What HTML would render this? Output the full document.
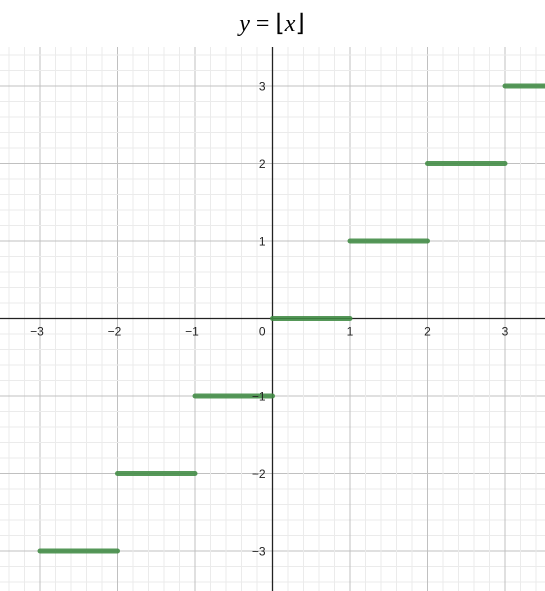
<!DOCTYPE html>
<html><head><meta charset="utf-8"><style>
html,body{margin:0;padding:0;background:#fff;width:545px;height:591px;overflow:hidden}
</style></head><body>
<svg id="chart" width="545" height="591" xmlns="http://www.w3.org/2000/svg">
<text x="272" y="31" text-anchor="middle" font-family="Liberation Serif, serif" font-size="24"><tspan font-style="italic">y</tspan> = ⌊<tspan font-style="italic">x</tspan>⌋</text>
<g id="grid"></g>
<g id="axes"></g>
<g id="series"></g>
<g id="labels"></g>
</svg>
<script>
const stepStarts = [-3, -2, -1, 0, 1, 2, 3];
const stepValues = [-3, -2, -1, 0, 1, 2, 3];
const stepEnds = [-2, -1, 0, 1, 2, 3, 3.6];
const xTicks = [-3, -2, -1, 1, 2, 3];
const yTicks = [-3, -2, -1, 1, 2, 3];
const X0 = 272.5, Y0 = 318.5, U = 77.5, TOP = 47, BOT = 591, LEFT = 0, RIGHT = 545;
const sx = v => X0 + v * U;
const sy = v => Y0 - v * U;
const NS = "http://www.w3.org/2000/svg";
function mk(tag, attrs, parent) { const e = document.createElementNS(NS, tag); for (const k in attrs) e.setAttribute(k, attrs[k]); parent.appendChild(e); return e; }
const grid = document.getElementById('grid');
for (let i = -20; i <= 20; i++) {
  const v = i / 5, major = i % 5 === 0;
  const x = sx(v);
  if (x >= LEFT && x <= RIGHT) {
    const l = mk('line', {x1: x, x2: x, y1: TOP, y2: BOT, stroke: major ? '#c0c0c0' : '#ebebeb', 'stroke-width': 1}, grid);
    
    
  }
  const y = sy(v);
  if (y >= TOP && y <= BOT) {
    const l = mk('line', {x1: LEFT, x2: RIGHT, y1: y, y2: y, stroke: major ? '#c0c0c0' : '#ebebeb', 'stroke-width': 1}, grid);
    
    
  }
}
const axes = document.getElementById('axes');
const xa = mk('line', {x1: LEFT, x2: RIGHT, y1: Y0, y2: Y0, stroke: '#222', 'stroke-width': 1.3}, axes);


const ya = mk('line', {x1: X0, x2: X0, y1: TOP, y2: BOT, stroke: '#222', 'stroke-width': 1.3}, axes);


const series = document.getElementById('series');
stepStarts.forEach((s, i) => {
  const l = mk('line', {x1: sx(s), x2: Math.min(sx(stepEnds[i]), 548), y1: sy(stepValues[i]), y2: sy(stepValues[i]), stroke: '#3f8a42', 'stroke-opacity': 0.88, 'stroke-width': 5, 'stroke-linecap': 'round'}, series);
  
  
});
const labels = document.getElementById('labels');
const fnt = {'font-family': 'Liberation Sans, sans-serif', 'font-size': 12, fill: '#222'};
xTicks.forEach(v => {
  const t = mk('text', Object.assign({x: sx(v) + (v < 0 ? -3 : 0), y: Y0 + 17, 'text-anchor': 'middle'}, fnt), labels);
  t.textContent = v < 0 ? '\u2212' + (-v) : String(v);
  
  
});
yTicks.forEach(v => {
  const t = mk('text', Object.assign({x: X0 - 7, y: sy(v) + 4.5, 'text-anchor': 'end'}, fnt), labels);
  t.textContent = v < 0 ? '\u2212' + (-v) : String(v);
  
  
});
const z = mk('text', Object.assign({x: X0 - 7, y: Y0 + 17, 'text-anchor': 'end'}, fnt), labels);
z.textContent = '0';


</script>
</body></html>
